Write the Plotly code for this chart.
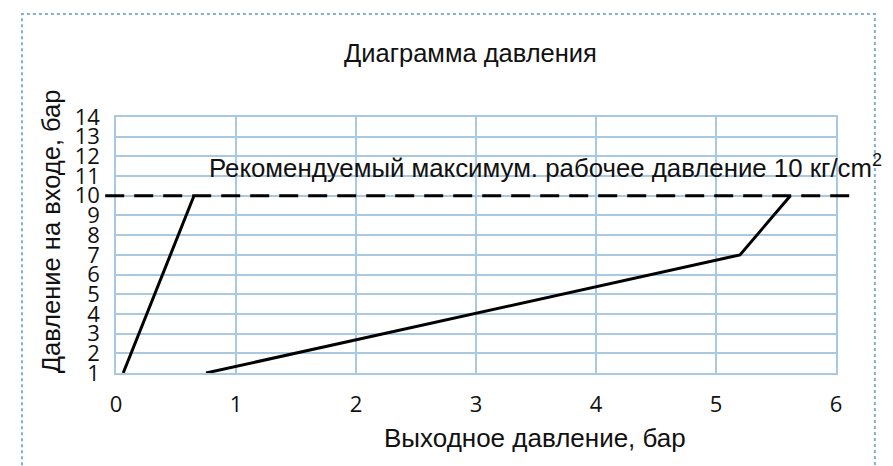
import plotly.graph_objects as go

# Кривые давления (выход, бар -> вход, бар)
curve1_out = [0.06, 0.65]
curve1_in = [1, 10]
curve2_out = [0.75, 5.2, 5.62]
curve2_in = [1, 7, 10]

max_pressure = 10
x_ticks = [0, 1, 2, 3, 4, 5, 6]
y_ticks = list(range(1, 15))

title_text = "Диаграмма давления"
note_text = "Рекомендуемый максимум. рабочее давление 10 кг/cm<sup>2</sup>"
x_title = "Выходное давление, бар"
y_title = "Давление на входе, бар"

grid_color = "#a9c9e2"
text_font = "Liberation Sans, Arial, sans-serif"
tick_font = "Open Sans, sans-serif"
ink = "#111111"

fig = go.Figure()

fig.add_trace(go.Scatter(
    x=curve1_out, y=curve1_in, mode="lines",
    line=dict(color="black", width=3), showlegend=False, hoverinfo="skip"
))
fig.add_trace(go.Scatter(
    x=curve2_out, y=curve2_in, mode="lines",
    line=dict(color="black", width=3), showlegend=False, hoverinfo="skip"
))

# пунктир максимального давления (выходит за поле графика)
fig.add_shape(
    type="line", xref="paper", yref="y",
    x0=-0.015, x1=1.02, y0=max_pressure, y1=max_pressure,
    line=dict(color="black", width=3, dash="19px,10px"), layer="above"
)

# пунктирная рамка вокруг рисунка
fig.add_shape(
    type="rect", xref="paper", yref="paper",
    x0=-0.1306, x1=1.054, y0=-0.45, y1=1.402,
    line=dict(color="#7fb0d6", width=2, dash="dot"), layer="below"
)

# подписи
fig.add_annotation(
    x=0.4917, y=1.25, xref="paper", yref="paper", text=title_text, showarrow=False,
    xanchor="center", yanchor="middle", font=dict(family=text_font, size=25.5, color=ink)
)
fig.add_annotation(
    x=0.126, y=0.8105, xref="paper", yref="paper", text=note_text, showarrow=False,
    xanchor="left", yanchor="middle", font=dict(family=text_font, size=25.8, color=ink)
)
fig.add_annotation(
    x=0.582, y=-0.254, xref="paper", yref="paper", text=x_title, showarrow=False,
    xanchor="center", yanchor="middle", font=dict(family=text_font, size=26, color=ink)
)
fig.add_annotation(
    x=-0.09, y=0.5547, xref="paper", yref="paper", text=y_title, showarrow=False,
    textangle=-90, xanchor="center", yanchor="middle",
    font=dict(family=text_font, size=25.5, color=ink)
)

# страница имеет отступ 8px, поэтому фигура чуть меньше окна
fig.update_layout(
    width=885, height=458,
    margin=dict(l=108, r=57, t=109, b=93),
    paper_bgcolor="white", plot_bgcolor="white",
    xaxis=dict(
        range=[0, 6], tickvals=x_ticks, showgrid=True, gridcolor=grid_color, gridwidth=1.5,
        zeroline=False, showline=True, linecolor=grid_color, linewidth=1.5, mirror=True,
        ticks="", ticklabelstandoff=11,
        tickfont=dict(family=tick_font, size=22, color=ink)
    ),
    yaxis=dict(
        range=[1, 14], tickvals=y_ticks, showgrid=True, gridcolor=grid_color, gridwidth=1.5,
        zeroline=False, showline=True, linecolor=grid_color, linewidth=1.5, mirror=True,
        ticks="", ticklabelstandoff=10,
        tickfont=dict(family=tick_font, size=22, color=ink)
    ),
)

fig.write_html("out.html")
